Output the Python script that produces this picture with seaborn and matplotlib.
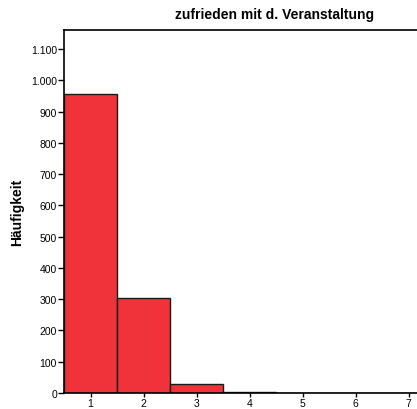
import matplotlib
matplotlib.use('Agg')
import matplotlib.pyplot as plt
import matplotlib.ticker as mticker
import seaborn as sns
import pandas as pd

# Werte
categories = [1, 2, 3, 4, 5, 6, 7]
counts = [956, 304, 29, 3, 0, 0, 0]
title = 'zufrieden mit d. Veranstaltung'
ylabel = 'Häufigkeit'

df = pd.DataFrame({'wert': categories, 'n': counts})

sns.set_style('white')
plt.rcParams['font.family'] = ['Liberation Sans', 'DejaVu Sans']
plt.rcParams['text.color'] = 'black'
plt.rcParams['axes.labelcolor'] = 'black'

fig = plt.figure(figsize=(4.17, 4.10), dpi=100)
ax = fig.add_axes([64 / 417, 16 / 410, 353 / 417, 363 / 410])

sns.histplot(data=df, x='wert', weights='n', discrete=True, shrink=1,
             color='#f0323a', alpha=1, edgecolor='#1a1a1a', linewidth=1,
             ax=ax)

ax.set_xlim(0.5, 0.5 + 353 / 53)
ax.set_ylim(0, 1161)
ax.set_xticks(categories)
ax.set_yticks(range(0, 1101, 100))
ax.yaxis.set_major_formatter(
    mticker.FuncFormatter(lambda v, p: f'{int(v):,}'.replace(',', '.')))
ax.tick_params(axis='both', direction='out', length=4, width=1,
               labelsize=7.5, left=True, bottom=True, pad=1,
               colors='black', labelcolor='black')
ax.tick_params(axis='x', length=3, pad=0.5)
for s in ['left', 'bottom', 'top']:
    ax.spines[s].set_color('black')
    ax.spines[s].set_linewidth(1.2)
ax.spines['right'].set_visible(False)

ax.set_xlabel('')
ax.set_ylabel(ylabel, fontsize=10, fontweight='bold', color='black')
ax.yaxis.set_label_coords(-40 / 353, 0.5)
fig.text(275 / 417, 1 - 15 / 410, title, ha='center', va='center',
         fontsize=10, fontweight='bold', color='black')

fig.savefig('out.png', dpi=100)
